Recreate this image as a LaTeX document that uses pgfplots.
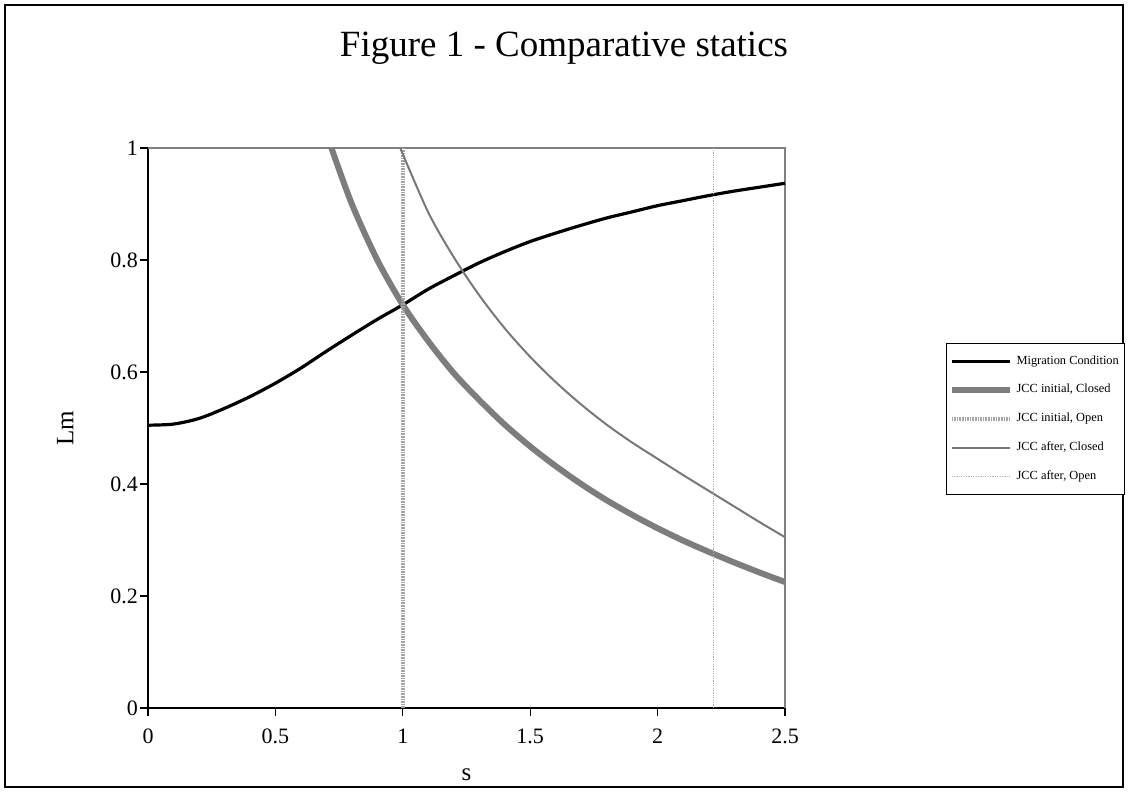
\documentclass[border=0pt]{standalone}
\usepackage{fontspec}
\setmainfont{Liberation Serif}
\usepackage{pgfplots}
\pgfplotsset{compat=1.18}

\definecolor{thickgray}{RGB}{125,125,125}
\definecolor{dotgray}{RGB}{165,165,165}
\definecolor{thingray}{RGB}{120,120,120}
\definecolor{lightdot}{RGB}{175,175,175}

\begin{document}
\begin{tikzpicture}[x=1pt,y=1pt]
\useasboundingbox (0,0) rectangle (564,396);
\draw[line width=1pt] (2.5,2.5) rectangle (561.5,393.5);
\node[font=\fontsize{18.5}{22}\selectfont] at (282,372) {Figure 1 - Comparative statics};
\begin{axis}[
    at={(74pt,42pt)}, anchor=origin,
    scale only axis, width=318.5pt, height=280pt,
    xmin=0, xmax=2.5, ymin=0, ymax=1,
    axis lines*=left, axis line style={line width=0.8pt},
    tick align=outside, major tick length=4pt,
    tick style={black, line width=0.6pt},
    xtick={0,0.5,...,2.5}, ytick={0,0.2,...,1},
    /pgf/number format/assume math mode=true,
    ticklabel style={font=\fontsize{11}{13}\selectfont},
    xticklabel style={yshift=-3pt},
    yticklabel style={xshift=2.5pt},
    xlabel={s}, ylabel={Lm},
    label style={font=\fontsize{12.5}{14}\selectfont},
    xlabel style={at={(axis description cs:0.5,-0.12)}, anchor=center},
    ylabel style={at={(axis description cs:-0.13,0.5)}, anchor=center},
    clip=false,
    legend style={at={(1.2527,0.652)}, anchor=north west, draw=black, line width=0.6pt,
        font=\fontsize{6.2}{7.5}\selectfont, row sep=4.6pt, inner xsep=1pt, inner ysep=4pt,
        /tikz/every even column/.append style={column sep=1pt}},
    legend cell align=left,
    legend image code/.code={\draw[#1] (0pt,0pt) -- (29pt,0pt);},
]
\draw[gray, line width=0.8pt] (rel axis cs:0,1) -- (rel axis cs:1,1) -- (rel axis cs:1,0);
\addplot[black, line width=1.6pt, smooth] coordinates {
 (0,0.505) (0.1,0.507) (0.2,0.517) (0.3,0.535) (0.4,0.556) (0.5,0.58)
 (0.6,0.607) (0.7,0.637) (0.8,0.666) (0.9,0.694) (1.0,0.72) (1.1,0.748)
 (1.2,0.772) (1.3,0.795) (1.4,0.815) (1.5,0.833) (1.6,0.848) (1.7,0.862)
 (1.8,0.875) (1.9,0.886) (2.0,0.897) (2.1,0.906) (2.2,0.915) (2.3,0.923)
 (2.4,0.93) (2.5,0.937)};
\addlegendentry{Migration Condition}
\addplot[thickgray, line width=3pt, smooth] coordinates {
 (0.72,1.0) (0.8,0.9) (0.9,0.8) (1.0,0.72) (1.1,0.655) (1.2,0.598)
 (1.3,0.55) (1.4,0.506) (1.5,0.467) (1.6,0.432) (1.7,0.400) (1.8,0.371)
 (1.9,0.345) (2.0,0.321) (2.1,0.299) (2.2,0.279) (2.3,0.260) (2.4,0.242)
 (2.5,0.225)};
\addlegendentry{JCC initial, Closed}
\addplot[dotgray, line width=2.2pt, dash pattern=on 0.8pt off 0.5pt] coordinates {
 (1.0,0) (1.0,1)};
\addlegendentry{JCC initial, Open}
\addplot[thingray, line width=1pt, smooth] coordinates {
 (0.99,1.0) (1.1,0.885) (1.2,0.805) (1.3,0.737) (1.4,0.678) (1.5,0.627)
 (1.6,0.582) (1.7,0.542) (1.8,0.506) (1.9,0.474) (2.0,0.445) (2.1,0.416)
 (2.2,0.388) (2.3,0.360) (2.4,0.332) (2.5,0.305)};
\addlegendentry{JCC after, Closed}
\addplot[lightdot, line width=0.8pt, dash pattern=on 0.6pt off 0.6pt] coordinates {
 (2.22,0) (2.22,1)};
\addlegendentry{JCC after, Open}
\end{axis}
\end{tikzpicture}
\end{document}
